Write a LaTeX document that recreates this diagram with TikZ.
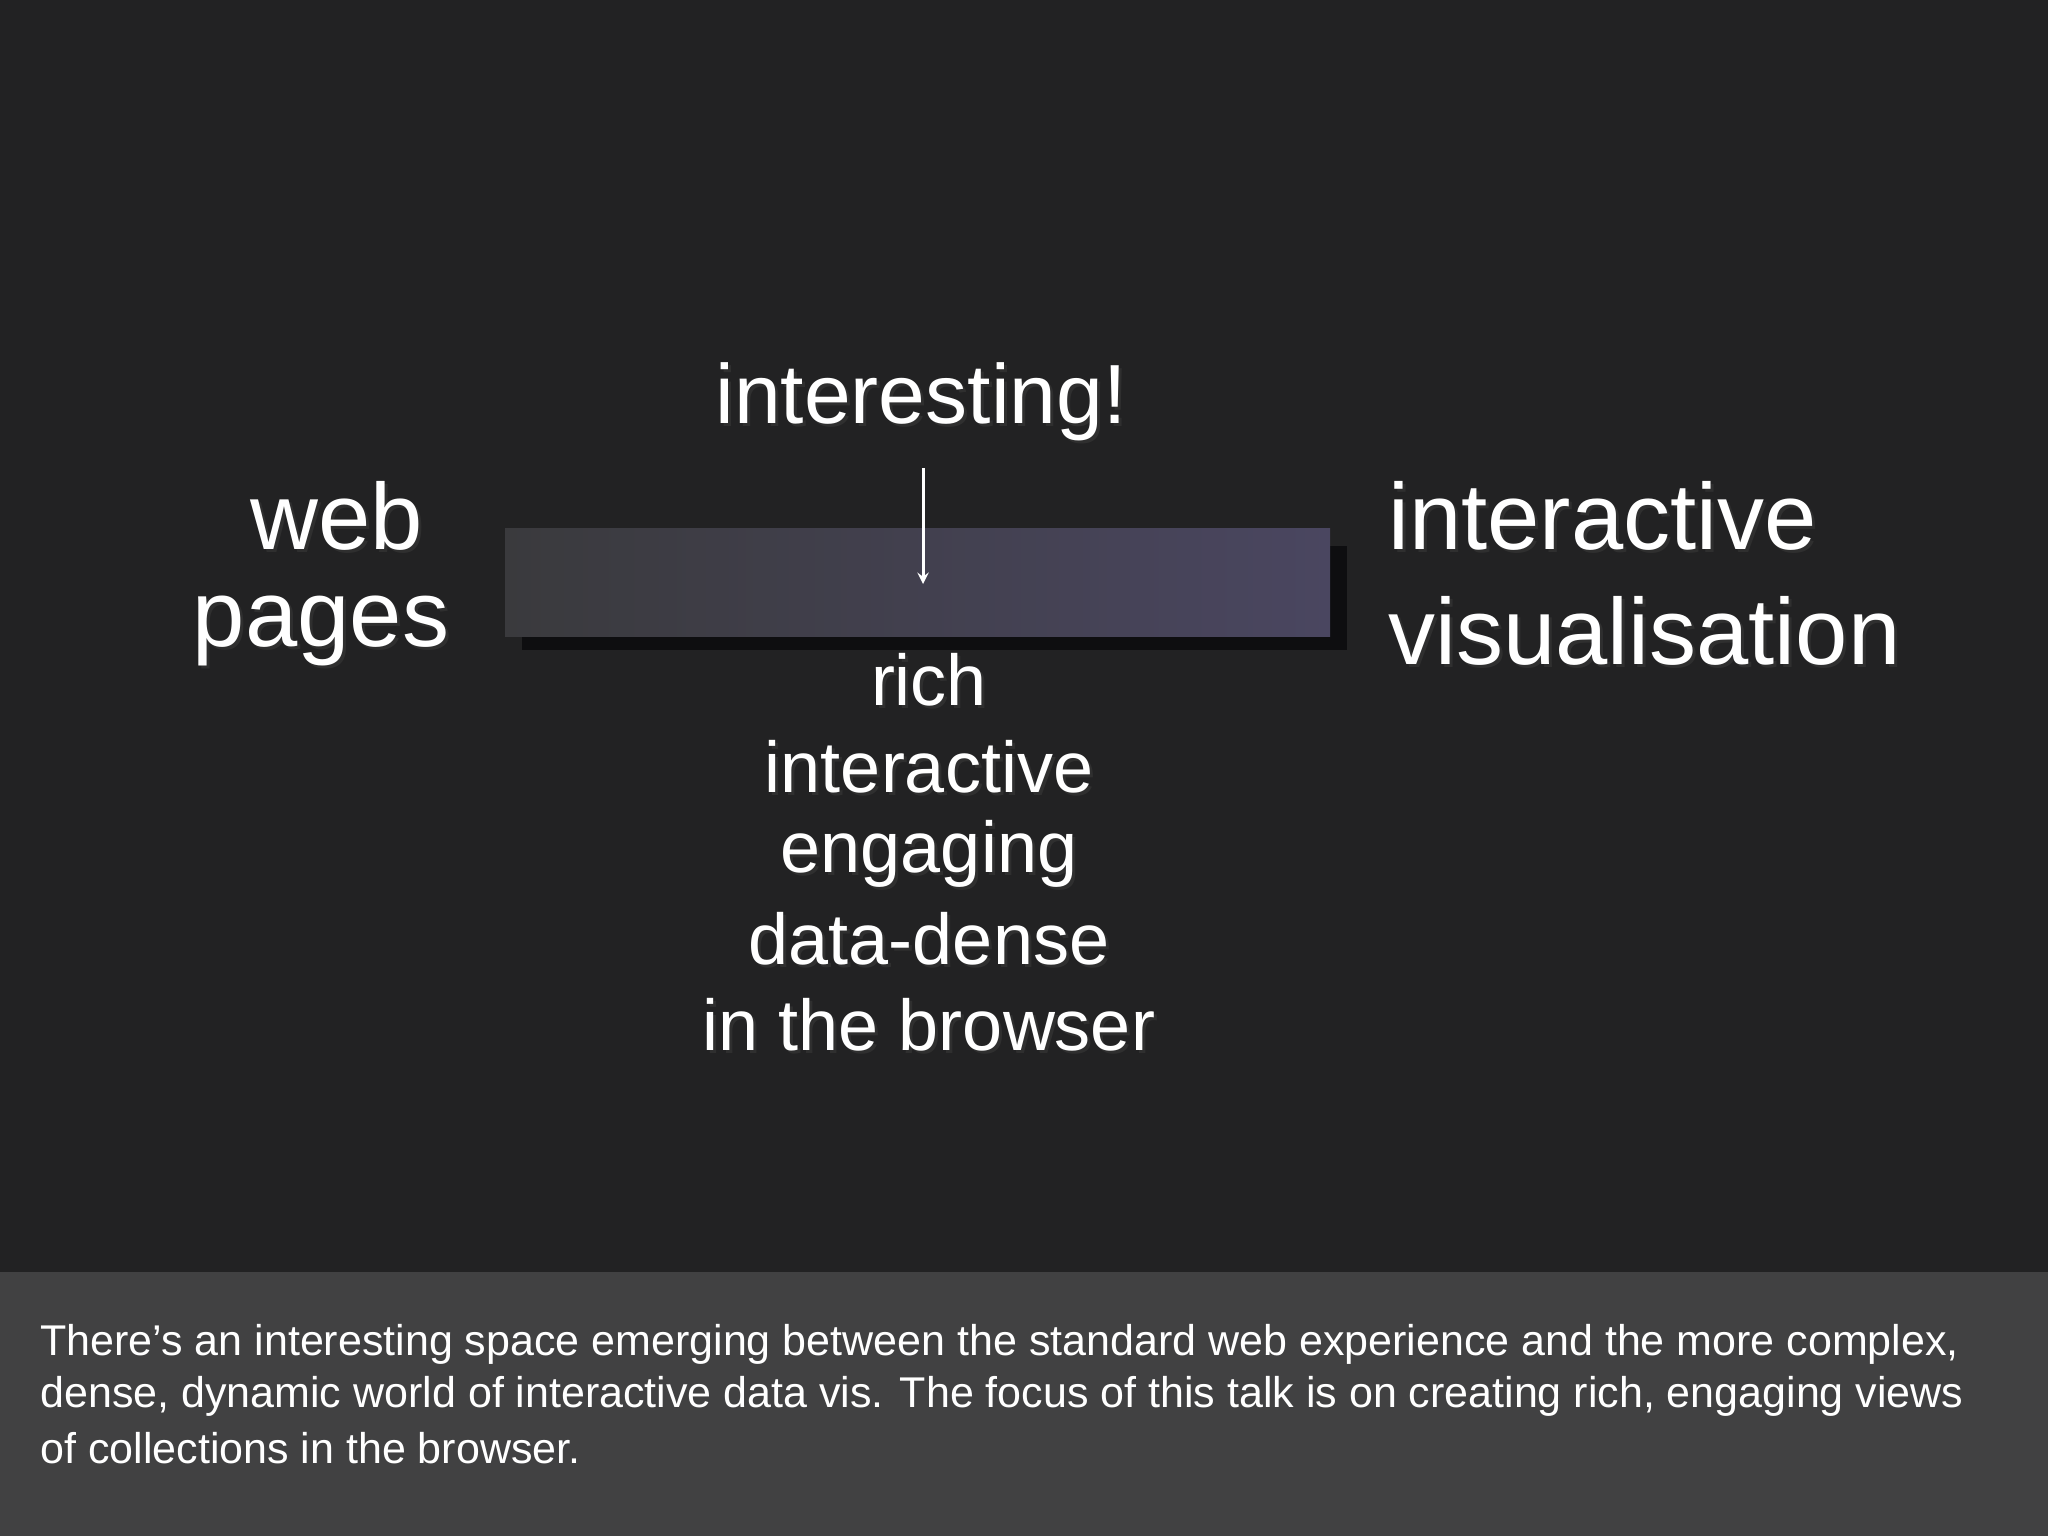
\documentclass[tikz,border=0pt]{standalone}
\usepackage{fontspec}
\setmainfont{Liberation Sans}
\definecolor{bg}{HTML}{222223}
\definecolor{band}{HTML}{414142}
\definecolor{barL}{HTML}{3A3A3D}
\definecolor{barR}{HTML}{4A4660}
\definecolor{shad}{HTML}{0E0E10}
\begin{document}
\begin{tikzpicture}[x=0.5pt,y=-0.5pt,
  big/.style={font=\fontsize{47}{57}\selectfont,text=white,inner sep=0pt,align=center},
  mid/.style={font=\fontsize{36}{43}\selectfont,text=white,inner sep=0pt},
  captext/.style={font=\fontsize{21.5}{26}\selectfont,text=white,inner sep=0pt,anchor=west},
  sh/.style={text=black!80,opacity=0.8}]
\fill[bg] (0,0) rectangle (2048,1536);
\useasboundingbox (0,0) rectangle (2048,1536);
\fill[band] (0,1272) rectangle (2048,1536);
\fill[shad] (522,546) rectangle (1347,650);
\shade[left color=barL,right color=barR] (505,528) rectangle (1330,636);
% shadows
\foreach \t/\x/\y/\s in {interesting!/921/402/42,rich/929/680/36,interactive/929/767/36,engaging/929/854/36,data-dense/929/939/36,in the browser/929/1025/36,web/337/516/47,pages/321/631/47}
  \node[sh,inner sep=0pt,font=\fontsize{\s}{\s}\selectfont] at (\x+3,\y+3) {\t};
\node[sh,inner sep=0pt,font=\fontsize{47}{47}\selectfont,anchor=west] at (1391,519) {interactive};
\node[sh,inner sep=0pt,font=\fontsize{47}{47}\selectfont,anchor=west] at (1391,634) {visualisation};
% texts
\node[mid,font=\fontsize{42}{42}\selectfont] (int) at (921,402) {interesting!};
\node[big] (web) at (337,516) {web};
\node[big] (pages) at (321,631) {pages};
\node[big,anchor=west] (iv1) at (1388,516) {interactive};
\node[big,anchor=west] (iv2) at (1388,631) {visualisation};
\node[mid] (m1) at (929,680) {rich};
\node[mid] (m2) at (929,767) {interactive};
\node[mid] (m3) at (929,854) {engaging};
\node[mid] (m4) at (929,939) {data-dense};
\node[mid] (m5) at (929,1025) {in the browser};
\coordinate (a1) at (923,468);
\coordinate (a2) at (923,584);
\draw[white,line width=1.5pt,-stealth] (a1) -- (a2);
\node[captext] (c1) at (40,1344) {There’s an interesting space emerging between the standard web experience and the more complex,};
\node[captext] (c2) at (40,1396) {dense, dynamic world of interactive data vis. The focus of this talk is on creating rich, engaging views};
\node[captext] (c3) at (40,1448) {of collections in the browser.};
\end{tikzpicture}
\end{document}
